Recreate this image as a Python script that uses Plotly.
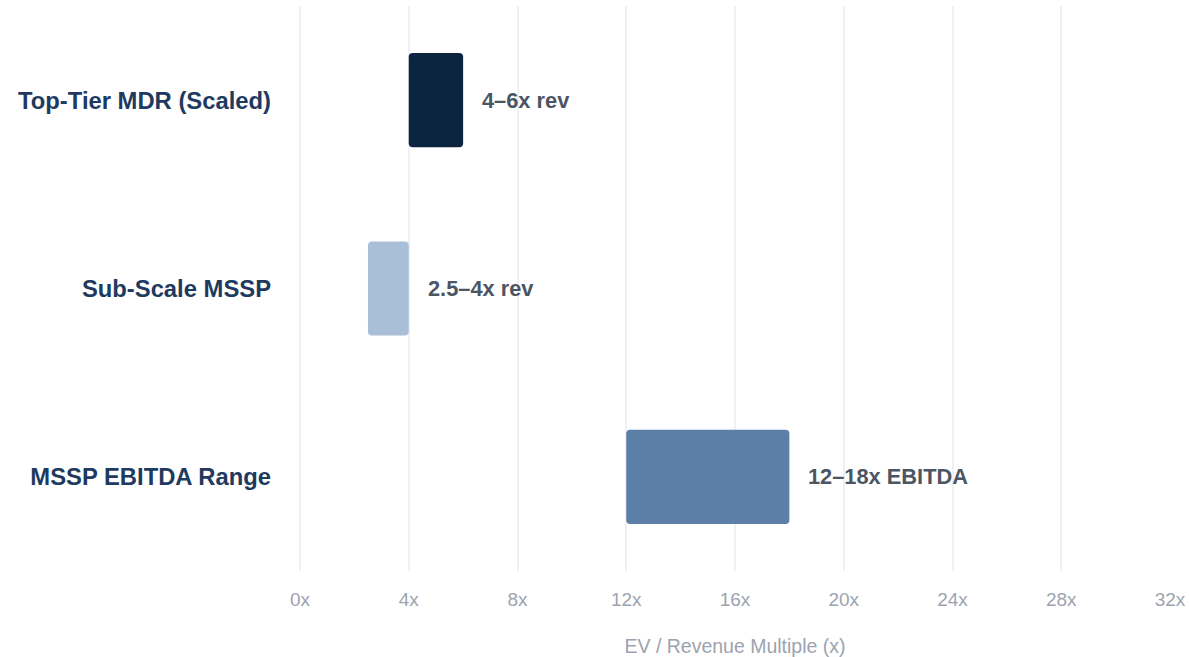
import plotly.graph_objects as go

categories = ["Top-Tier MDR (Scaled)", "Sub-Scale MSSP", "MSSP EBITDA Range"]
range_low = [4, 2.5, 12]
range_high = [6, 4, 18]
range_labels = ["4–6x rev", "2.5–4x rev", "12–18x EBITDA"]
bar_colors = ["#0b2540", "#a9bfd8", "#5b7fa6"]
tick_vals = [0, 4, 8, 12, 16, 20, 24, 28, 32]
tick_text = [f"{v}x" for v in tick_vals]

FONT = "Liberation Sans, Arial, sans-serif"
GRID = "#eef0f3"

fig = go.Figure()
fig.add_trace(go.Bar(
    y=categories,
    x=[h - l for l, h in zip(range_low, range_high)],
    base=range_low,
    orientation="h",
    marker=dict(color=bar_colors, line=dict(width=0)),
    width=0.5,
    hoverinfo="skip",
))

for cat, hi, lab in zip(categories, range_high, range_labels):
    fig.add_annotation(
        x=hi, y=cat, text=f"<b>{lab}</b>", showarrow=False,
        xanchor="left", xshift=17,
        font=dict(family=FONT, size=21.8, color="#4b5563"),
    )

fig.update_layout(
    width=1189, height=657,
    margin=dict(l=300, r=19, t=6, b=86),
    paper_bgcolor="white", plot_bgcolor="white",
    barcornerradius=4,
    showlegend=False,
    font=dict(family=FONT),
    xaxis=dict(
        range=[0, 32], tickvals=tick_vals, ticktext=tick_text,
        automargin=False,
        showgrid=True, gridcolor=GRID, gridwidth=2,
        zeroline=True, zerolinecolor=GRID, zerolinewidth=2,
        showline=False,
        tickfont=dict(size=19, color="#9ca3af"),
        ticklabelstandoff=15,
        title=dict(text="EV / Revenue Multiple (x)", font=dict(size=19.5, color="#9ca3af"), standoff=33),
    ),
    yaxis=dict(
        autorange="reversed", automargin=False,
        showgrid=False, zeroline=False, showline=False,
        tickfont=dict(size=23.8, color="#1e3a5f", weight="bold"),
        ticklabelstandoff=28,
    ),
)

fig.write_html("out.html")
